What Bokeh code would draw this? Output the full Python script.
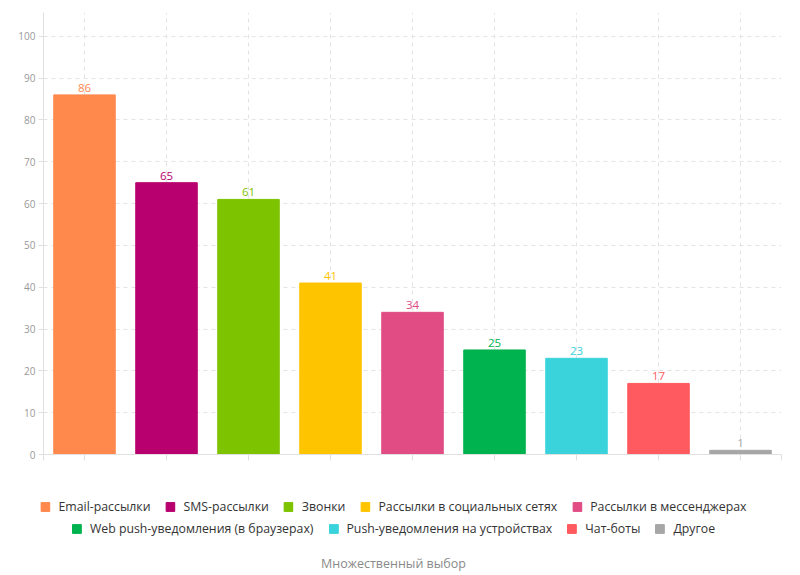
from bokeh.plotting import figure
from bokeh.layouts import column
from bokeh.models import (ColumnDataSource, Range1d, FixedTicker, Legend, LegendItem,
                          LabelSet, Label)
from bokeh.core.properties import value
from bokeh.embed import file_html
from bokeh.resources import INLINE

categories = ["Email-рассылки", "SMS-рассылки", "Звонки", "Рассылки в социальных сетях",
              "Рассылки в мессенджерах", "Web push-уведомления (в браузерах)",
              "Push-уведомления на устройствах", "Чат-боты", "Другое"]
values = [86, 65, 61, 41, 34, 25, 23, 17, 1]
colors = ["#FF884D", "#B8006E", "#7DC300", "#FFC400", "#E04C83",
          "#00B34E", "#3AD3DC", "#FF5A5F", "#A6A6A6"]
y_ticks = [0, 10, 20, 30, 40, 50, 60, 70, 80, 90, 100]
x_axis_title = "Множественный выбор"

FONT = "Open Sans"
n = len(categories)
xs = [i + 0.5 for i in range(n)]
src = ColumnDataSource(dict(x=xs, top=values, color=colors, cat=categories,
                            label=[str(v) for v in values]))

p = figure(width=800, height=470, output_backend="svg", toolbar_location=None,
           x_range=Range1d(0, n), y_range=Range1d(0, 105.7),
           min_border_left=43, min_border_right=19, min_border_top=12,
           min_border_bottom=16)
p.outline_line_color = None

r = p.vbar(x="x", top="top", width=0.75, color="color", source=src)

labels = LabelSet(x="x", y="top", text="label", source=src, text_color="color",
                  text_align="center", text_baseline="alphabetic", y_offset=3,
                  text_font=value(FONT), text_font_size="11.5px")
p.add_layout(labels)

# axes
p.yaxis.ticker = FixedTicker(ticks=y_ticks)
p.yaxis.axis_line_color = "#E0E0E0"
p.yaxis.major_tick_line_color = "#E0E0E0"
p.yaxis.major_tick_in = 0
p.yaxis.major_tick_out = 5
p.yaxis.minor_tick_line_color = None
p.yaxis.major_label_text_color = "#999999"
p.yaxis.major_label_text_font = FONT
p.yaxis.major_label_text_font_size = "10px"
p.yaxis.major_label_standoff = 3

xticks = [0] + xs + [n]
p.xaxis.ticker = FixedTicker(ticks=xticks)
p.xaxis.major_label_overrides = {t: "" for t in xticks}
p.xaxis.axis_line_color = "#E0E0E0"
p.xaxis.major_tick_line_color = "#E0E0E0"
p.xaxis.major_tick_in = 0
p.xaxis.major_tick_out = 6
p.xaxis.minor_tick_line_color = None
p.xaxis.major_label_standoff = 0

# grid
p.xgrid.ticker = FixedTicker(ticks=xs)
for g in (p.xgrid, p.ygrid):
    g.grid_line_color = "#E3E3E3"
    g.grid_line_dash = "4 4"
    g.grid_line_width = 1

# legend figure (legend swatches only; its bars lie outside its view)
q = figure(width=786, height=105, output_backend="svg", toolbar_location=None,
           x_range=Range1d(1000, 1100), y_range=Range1d(1000, 1100),
           x_axis_location=None, y_axis_location=None, min_border=0)
q.frame_align = False
q.grid.visible = False
q.outline_line_color = None
q.background_fill_color = None
q.border_fill_color = None
r2 = q.vbar(x="x", top="top", width=0.75, color="color", source=src)

def make_legend(idx, margin):
    items = [LegendItem(label=categories[i], renderers=[r2], index=i) for i in idx]
    return Legend(items=items, orientation="horizontal", location="top_center",
                  glyph_width=11, glyph_height=11, label_standoff=8, spacing=14,
                  label_text_font=FONT, label_text_font_size="12.3px",
                  label_text_color="#333333", border_line_color=None,
                  background_fill_alpha=0, padding=0, margin=margin,
                  label_height=14, label_text_baseline="middle")

q.add_layout(make_legend(range(0, 5), 28))
q.add_layout(make_legend(range(5, 9), 50))

q.add_layout(Label(x=393, y=12, x_units="screen", y_units="screen", text=x_axis_title,
                   text_align="center", text_baseline="middle", text_font=FONT,
                   text_font_size="12.5px", text_color="#8A8A8A"))

layout = column(p, q, spacing=0)
open("out.html", "w").write(file_html(layout, INLINE))
